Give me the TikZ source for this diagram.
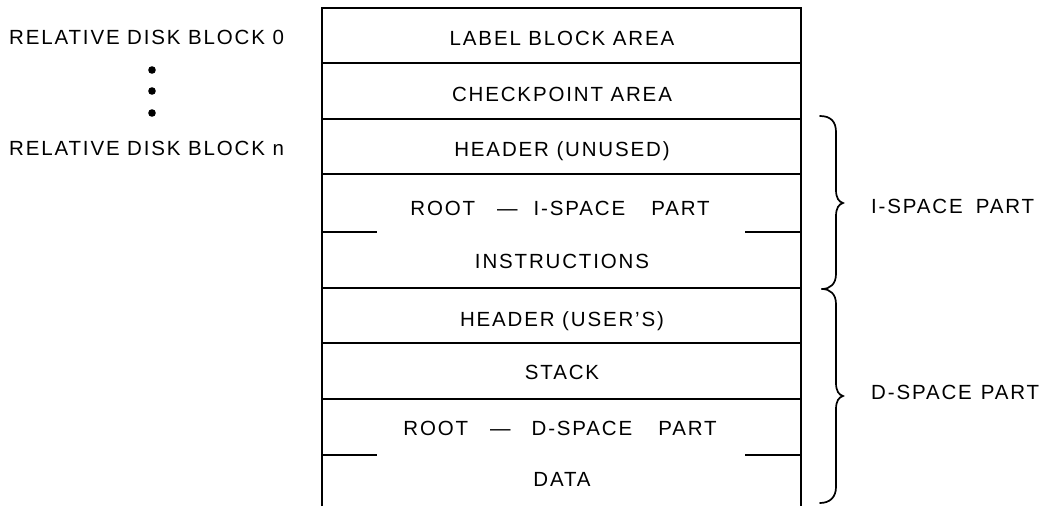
\documentclass[tikz,border=0pt]{standalone}
\usepackage{fontspec}
\setmainfont{Liberation Sans}[LetterSpace=9]
\begin{document}
\begin{tikzpicture}[x=1pt,y=-1pt,
  box/.style={line width=1.6pt},
  lbl/.style={anchor=base,inner sep=0pt,font=\fontsize{20.5}{23}\selectfont},
  brc/.style={line width=1.7pt,line cap=round}]
\useasboundingbox (0,0) rectangle (1046,506);
% outer box (open at the bottom edge)
\coordinate (tl) at (322,8);
\coordinate (tr) at (801,8);
\coordinate (bl) at (322,506);
\coordinate (br) at (801,506);
\draw[box] (bl) -- (tl) -- (tr) -- (br);
% full row separators
\foreach \y in {63,119,174,288,343,399}{
  \draw[box] (322,\y) -- (801,\y);
}
% partial separators
\foreach \y in {232,455}{
  \draw[box] (322,\y) -- (377,\y);
  \draw[box] (745,\y) -- (801,\y);
}
% row texts
\node[lbl] (t1) at (562,45) {LABEL BLOCK AREA};
\node[lbl] (t2) at (562,101) {CHECKPOINT AREA};
\node[lbl] (t3) at (562,156.5) {HEADER (UNUSED)};
\node[lbl] (t4) at (560,215.5) {ROOT\hspace{22pt}—\hspace{16pt}I-SPACE\hspace{26pt}PART};
\node[lbl] (t5) at (562,268.5) {INSTRUCTIONS};
\node[lbl] (t6) at (562,326.5) {HEADER (USER'S)};
\node[lbl] (t7) at (562,379.5) {STACK};
\node[lbl] (t8) at (560,435) {ROOT\hspace{22pt}—\hspace{21pt}D-SPACE\hspace{26pt}PART};
\node[lbl] (t9) at (562,486.5) {DATA};
% left labels
\node[lbl,anchor=base west] (b0) at (9,44) {RELATIVE DISK BLOCK 0};
\node[lbl,anchor=base west] (bn) at (9,155) {RELATIVE DISK BLOCK n};
\foreach \y/\n in {70/d1,91/d2,113/d3}{
  \fill (152,\y) circle (3.8) coordinate (\n);
}
% braces
\draw[brc] (820,116) .. controls (831,116) and (836,122) .. (836,132)
  -- (836,190) .. controls (836,198) and (839,202) .. (843,203)
  .. controls (839,204) and (836,208) .. (836,216)
  -- (836,274) .. controls (836,284) and (830,289) .. (822,289);
\draw[brc] (822,289) .. controls (830,289) and (836,294) .. (836,304)
  -- (836,383) .. controls (836,391) and (839,395) .. (843,396)
  .. controls (839,397) and (836,401) .. (836,409)
  -- (836,487) .. controls (836,497) and (830,503) .. (820,503);
\node[lbl,anchor=base west] (ip) at (871,213) {I-SPACE\hspace{13pt}PART};
\node[lbl,anchor=base west] (dp) at (871,399) {D-SPACE\hspace{9pt}PART};
\end{tikzpicture}
\end{document}
